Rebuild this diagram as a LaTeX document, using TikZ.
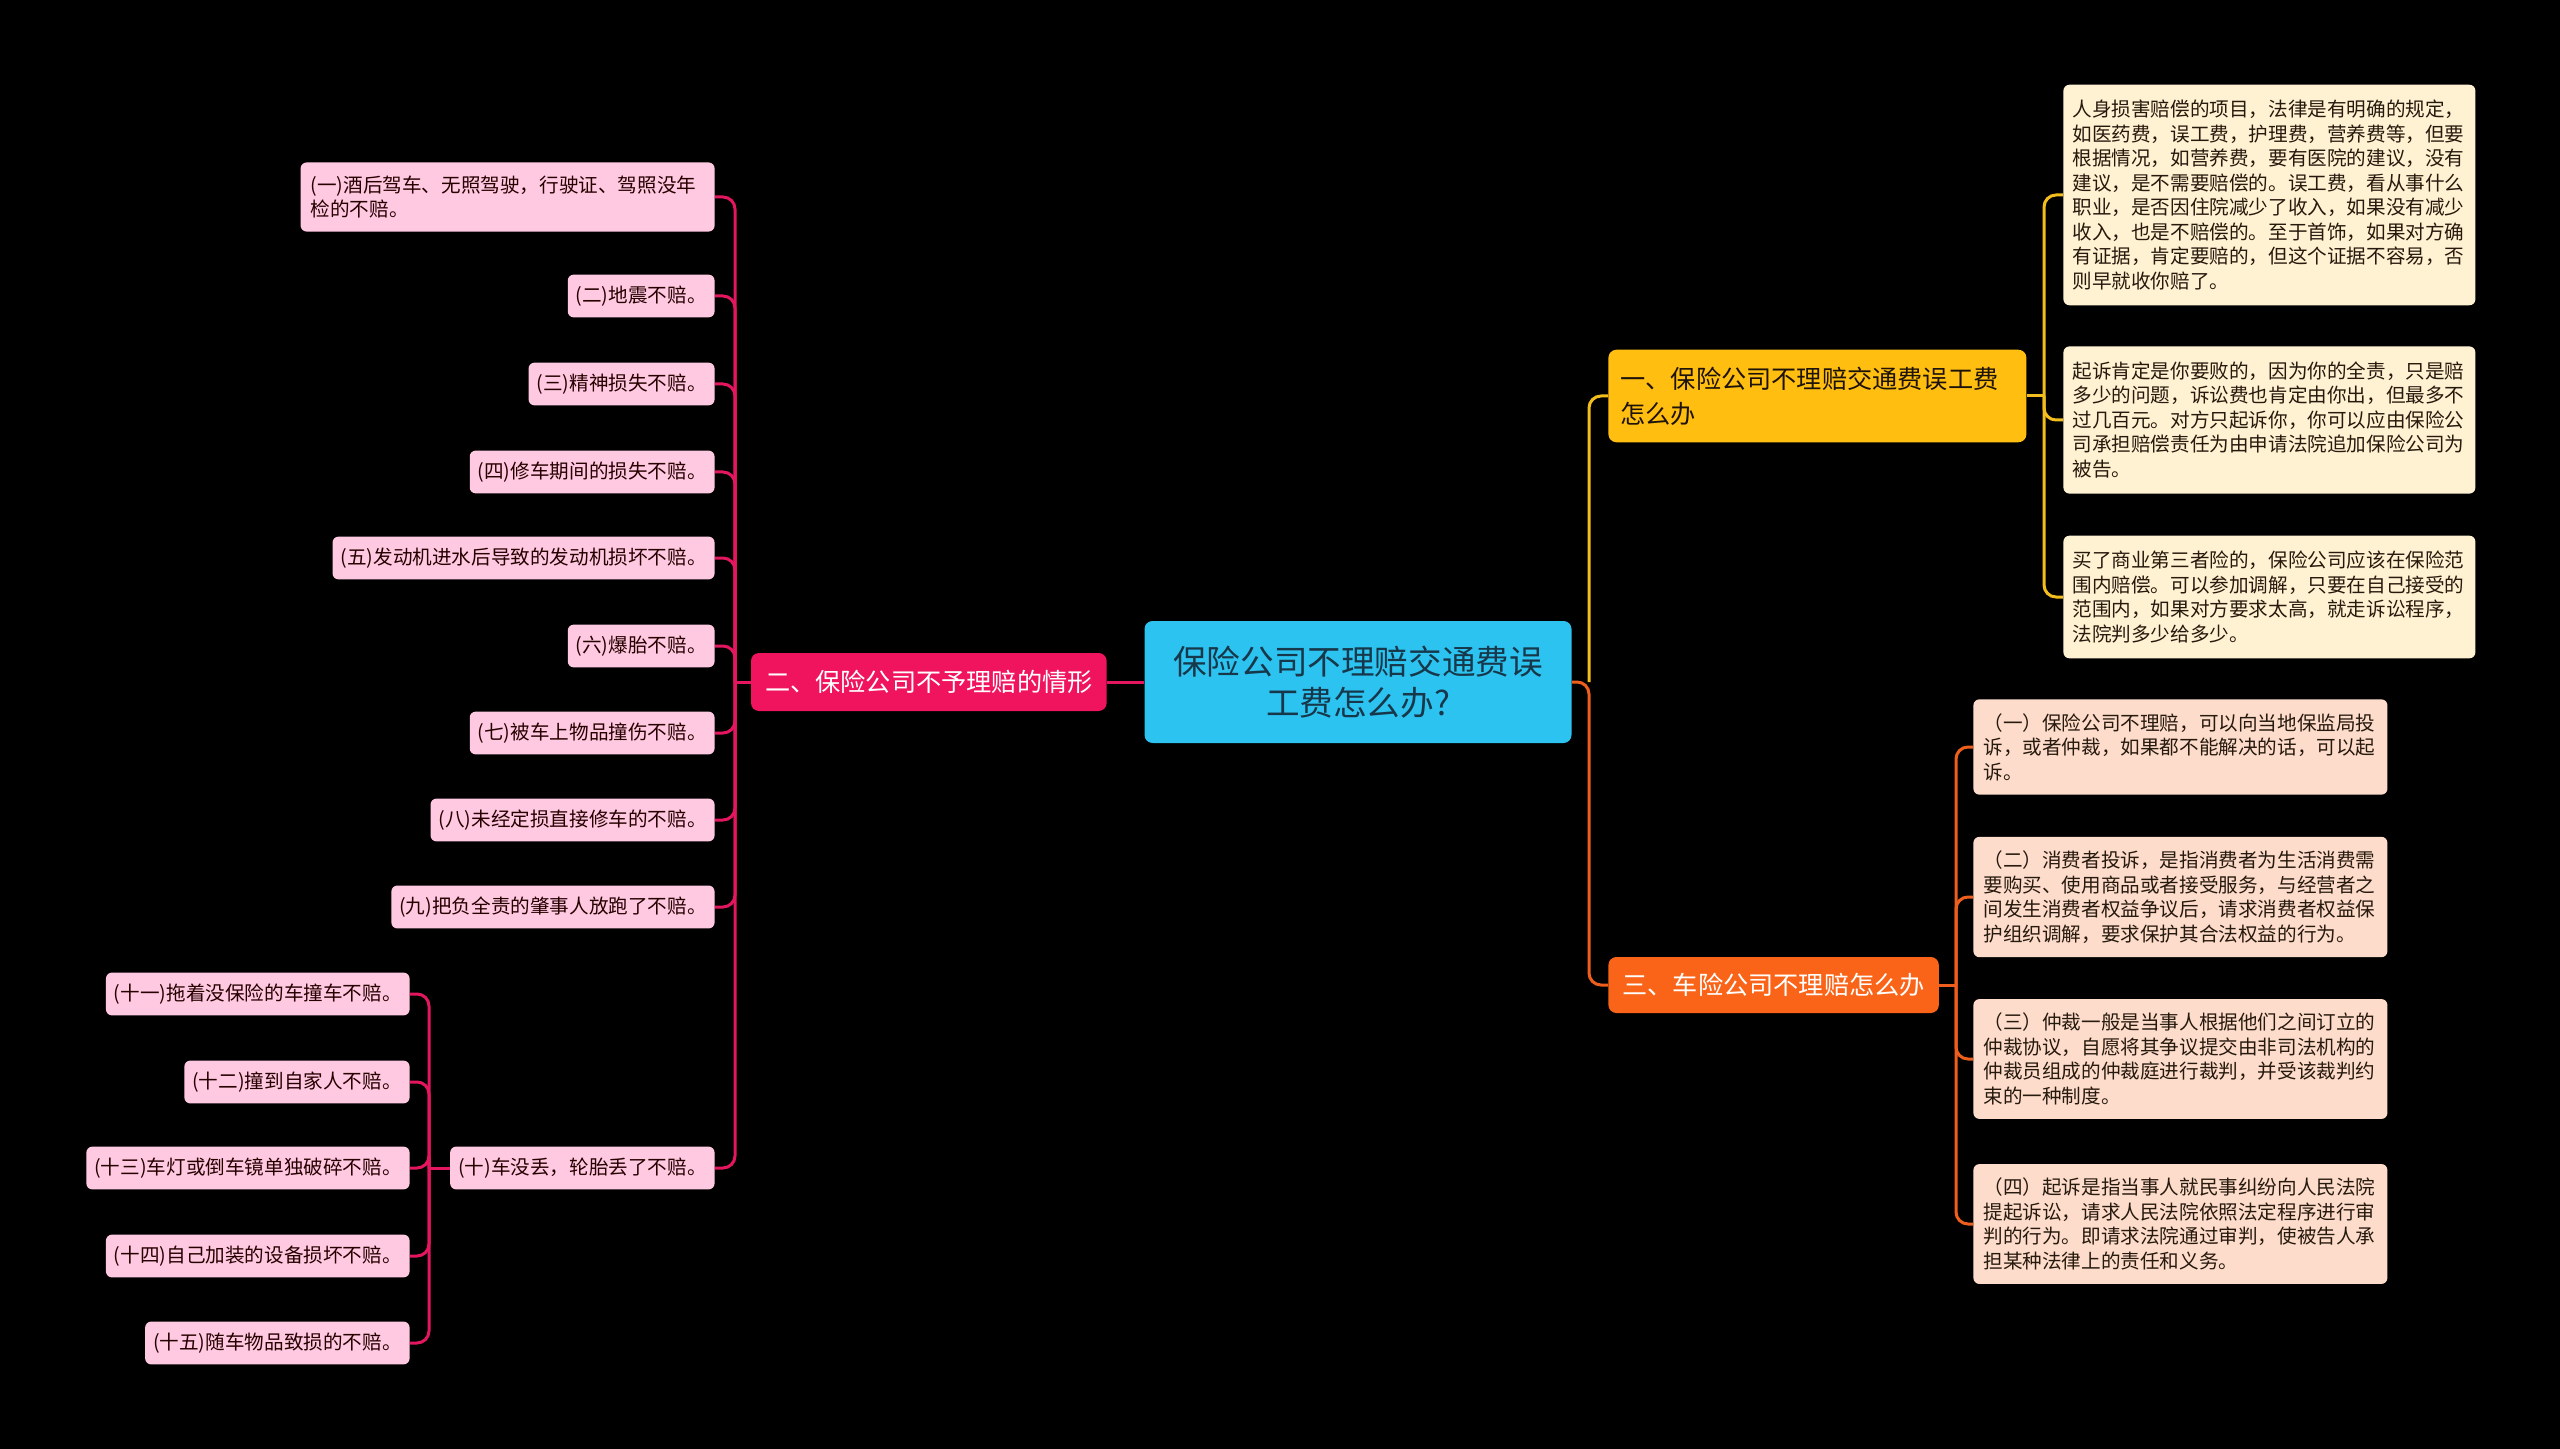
\documentclass[tikz,border=0pt]{standalone}
\usepackage{fontspec}
\setmainfont{Noto Sans CJK SC}

\definecolor{rootblue}{HTML}{2DC3F0}
\definecolor{roottext}{HTML}{17384A}
\definecolor{ybranch}{HTML}{FFBE10}
\definecolor{pbranch}{HTML}{F0145F}
\definecolor{obranch}{HTML}{FA6419}
\definecolor{yleaf}{HTML}{FFF2D2}
\definecolor{oleaf}{HTML}{FDDCCB}
\definecolor{pleaf}{HTML}{FFC9E1}
\definecolor{yline}{HTML}{F2BE1E}
\definecolor{oline}{HTML}{EE5F1E}
\definecolor{pline}{HTML}{E3165F}

\newcommand\leaffont{\fontsize{9.8pt}{12.25pt}\selectfont}
\newcommand\branchfont{\fontsize{12.6pt}{17.5pt}\selectfont}
\newcommand\rootfont{\fontsize{16.8pt}{20.8pt}\selectfont}

\begin{document}
\begin{tikzpicture}[x=0.5pt,y=-0.5pt,
      root/.style={fill=rootblue, text=roottext, rounded corners=4pt,
        minimum width=213.5pt, minimum height=61pt, align=center, font=\rootfont},
      branch/.style={rounded corners=4pt, inner xsep=7pt, minimum height=29pt, font=\branchfont},
      yleafbox/.style={fill=yleaf, text=black!80!brown, rounded corners=3pt, anchor=west,
        text width=197pt, align=left, inner xsep=4.5pt, inner ysep=7.7pt, font=\leaffont},
      oleafbox/.style={fill=oleaf, text=black!80!brown, rounded corners=3pt, anchor=west,
        text width=197pt, align=left, inner xsep=5pt, inner ysep=7pt, font=\leaffont},
      pleafbox/.style={fill=pleaf, text=black!85!red, rounded corners=3pt, anchor=east,
        inner xsep=4pt, inner ysep=5.6pt, font=\leaffont},
      link/.style={line width=1.5pt, rounded corners=6pt}
    ]
      \fill[black] (0,0) rectangle (2560,1449);

      % centre and main branches
      \node[root] (root) at (1358,682) {保险公司不理赔交通费误\\工费怎么办?};
      \node[branch, fill=ybranch, text=black!85!brown, anchor=west, text width=197pt,
        inner xsep=6pt, align=left, inner ysep=8.5pt] (yb) at (1608,396)
        {一、保险公司不理赔交通费误工费\\怎么办};
      \node[branch, fill=pbranch, text=white, anchor=east] (pb) at (1107,682)
        {二、保险公司不予理赔的情形};
      \node[branch, fill=obranch, text=white, anchor=west, minimum height=28pt] (ob) at (1608,985)
        {三、车险公司不理赔怎么办};

      % yellow leaves
      \node[yleafbox] (y1) at (2063,195) {人身损害赔偿的项目，法律是有明确的规定，\\
        如医药费，误工费，护理费，营养费等，但要\\
        根据情况，如营养费，要有医院的建议，没有\\
        建议，是不需要赔偿的。误工费，看从事什么\\
        职业，是否因住院减少了收入，如果没有减少\\
        收入，也是不赔偿的。至于首饰，如果对方确\\
        有证据，肯定要赔的，但这个证据不容易，否\\
        则早就收你赔了。};
      \node[yleafbox] (y2) at (2063,420) {起诉肯定是你要败的，因为你的全责，只是赔\\
        多少的问题，诉讼费也肯定由你出，但最多不\\
        过几百元。对方只起诉你，你可以应由保险公\\
        司承担赔偿责任为由申请法院追加保险公司为\\
        被告。};
      \node[yleafbox] (y3) at (2063,597) {买了商业第三者险的，保险公司应该在保险范\\
        围内赔偿。可以参加调解，只要在自己接受的\\
        范围内，如果对方要求太高，就走诉讼程序，\\
        法院判多少给多少。};

      % orange leaves
      \node[oleafbox] (o1) at (1973,747) {（一）保险公司不理赔，可以向当地保监局投\\
        诉，或者仲裁，如果都不能解决的话，可以起\\
        诉。};
      \node[oleafbox] (o2) at (1973,897) {（二）消费者投诉，是指消费者为生活消费需\\
        要购买、使用商品或者接受服务，与经营者之\\
        间发生消费者权益争议后，请求消费者权益保\\
        护组织调解，要求保护其合法权益的行为。};
      \node[oleafbox] (o3) at (1973,1059) {（三）仲裁一般是当事人根据他们之间订立的\\
        仲裁协议，自愿将其争议提交由非司法机构的\\
        仲裁员组成的仲裁庭进行裁判，并受该裁判约\\
        束的一种制度。};
      \node[oleafbox] (o4) at (1973,1224) {（四）起诉是指当事人就民事纠纷向人民法院\\
        提起诉讼，请求人民法院依照法定程序进行审\\
        判的行为。即请求法院通过审判，使被告人承\\
        担某种法律上的责任和义务。};

      % pink leaves
      \node[pleafbox, text width=197pt, align=left, inner xsep=5pt, inner ysep=6.6pt] (p1) at (715,197)
        {(一)酒后驾车、无照驾驶，行驶证、驾照没年\\检的不赔。};
      \node[pleafbox] (p2) at (715,296) {(二)地震不赔。};
      \node[pleafbox] (p3) at (715,384) {(三)精神损失不赔。};
      \node[pleafbox] (p4) at (715,472) {(四)修车期间的损失不赔。};
      \node[pleafbox] (p5) at (715,558) {(五)发动机进水后导致的发动机损坏不赔。};
      \node[pleafbox] (p6) at (715,646) {(六)爆胎不赔。};
      \node[pleafbox] (p7) at (715,733) {(七)被车上物品撞伤不赔。};
      \node[pleafbox] (p8) at (715,820) {(八)未经定损直接修车的不赔。};
      \node[pleafbox] (p9) at (715,907) {(九)把负全责的肇事人放跑了不赔。};
      \node[pleafbox] (p10) at (715,1168) {(十)车没丢，轮胎丢了不赔。};

      \node[pleafbox] (p11) at (410,994) {(十一)拖着没保险的车撞车不赔。};
      \node[pleafbox] (p12) at (410,1082) {(十二)撞到自家人不赔。};
      \node[pleafbox] (p13) at (410,1168) {(十三)车灯或倒车镜单独破碎不赔。};
      \node[pleafbox] (p14) at (410,1256) {(十四)自己加装的设备损坏不赔。};
      \node[pleafbox] (p15) at (410,1343) {(十五)随车物品致损的不赔。};

      % spine points
      \coordinate (rs) at (1589,682);
      \coordinate (ys) at (2044,396);
      \coordinate (os) at (1956,985);
      \coordinate (ps) at (735,682);
      \coordinate (ts) at (429,1168);

      % right side
      \draw[link, yline] (rs) |- (yb.west);
      \draw[link, oline] (root.east) -- (rs) |- (ob.west);
      \draw[link, yline] (yb.east) -- (ys);
      \draw[link, yline] (ys) |- (y1.west);
      \draw[link, yline] (ys) |- (y2.west);
      \draw[link, yline] (ys) |- (y3.west);
      \draw[link, oline] (ob.east) -- (os);
      \draw[link, oline] (os) |- (o1.west);
      \draw[link, oline] (os) |- (o2.west);
      \draw[link, oline] (os) |- (o3.west);
      \draw[link, oline] (os) |- (o4.west);

      % left side
      \draw[link, pline] (root.west) -- (pb.east);
      \draw[link, pline] (pb.west) -- (ps);
      \draw[link, pline] (ps) |- (p1.east);
      \draw[link, pline] (ps) |- (p2.east);
      \draw[link, pline] (ps) |- (p3.east);
      \draw[link, pline] (ps) |- (p4.east);
      \draw[link, pline] (ps) |- (p5.east);
      \draw[link, pline] (ps) |- (p6.east);
      \draw[link, pline] (ps) |- (p7.east);
      \draw[link, pline] (ps) |- (p8.east);
      \draw[link, pline] (ps) |- (p9.east);
      \draw[link, pline] (ps) |- (p10.east);
      \draw[link, pline] (p10.west) -- (ts);
      \draw[link, pline] (ts) |- (p11.east);
      \draw[link, pline] (ts) |- (p12.east);
      \draw[link, pline] (ts) |- (p13.east);
      \draw[link, pline] (ts) |- (p14.east);
      \draw[link, pline] (ts) |- (p15.east);
    \end{tikzpicture}
\end{document}
